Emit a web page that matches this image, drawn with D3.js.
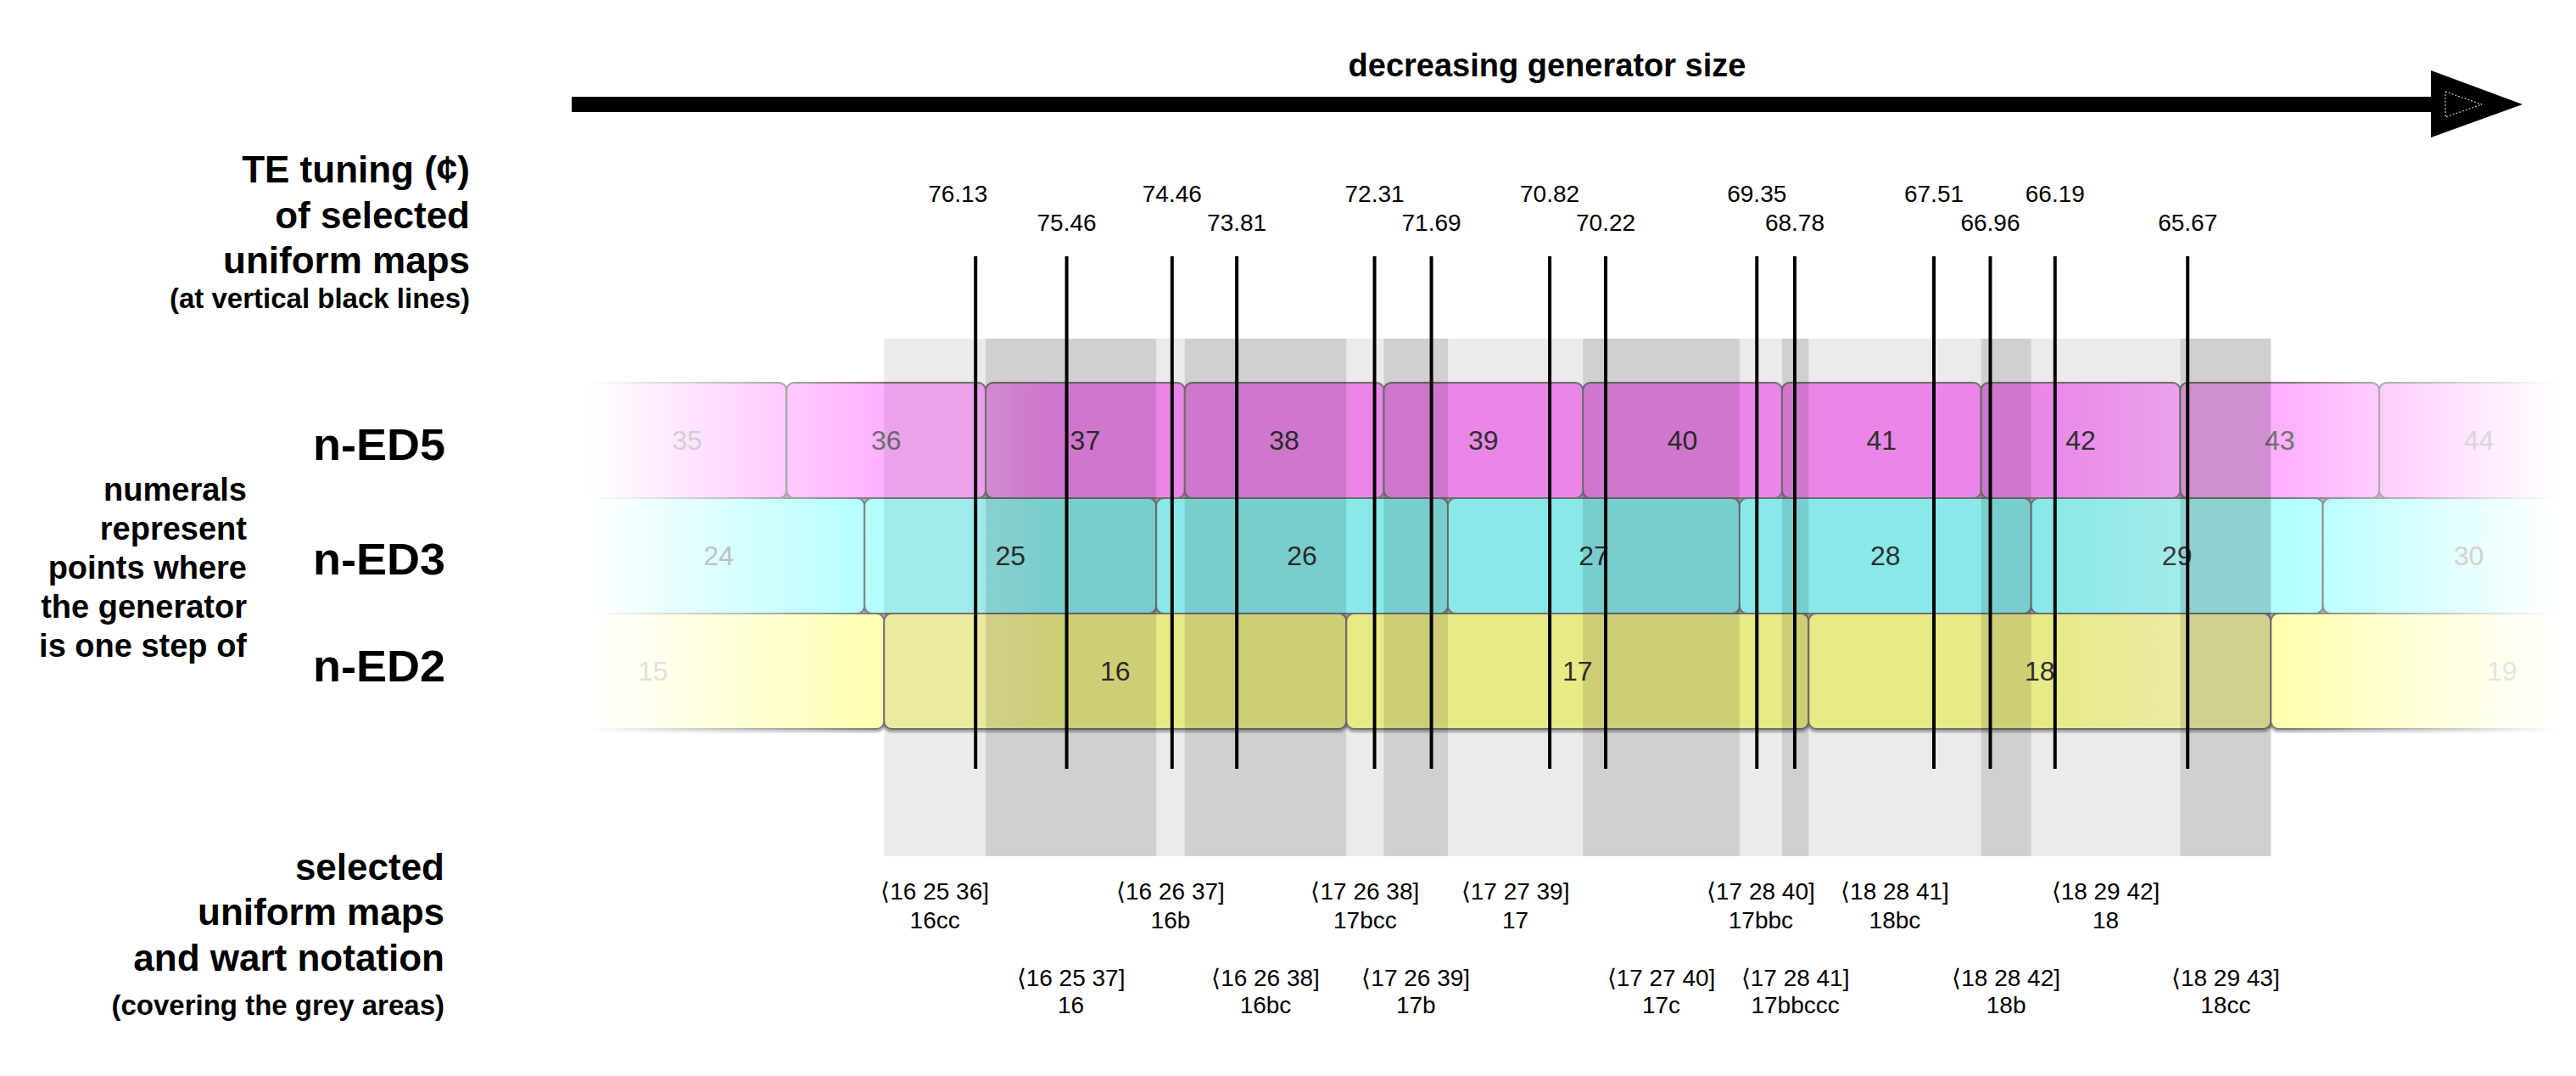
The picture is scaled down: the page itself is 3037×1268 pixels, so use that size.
<!DOCTYPE html>
<html><head><meta charset="utf-8">
<script src="https://cdn.jsdelivr.net/npm/d3@7"></script>
<style>html,body{margin:0;padding:0;background:#fff;} svg{display:block;}</style>
</head><body>
<script>
// ---------- data ----------
const titleText = "decreasing generator size";
const rowNames = ["n-ED5", "n-ED3", "n-ED2"];
const rowPeriods = [2786.314, 1901.955, 1200];           // cents of 5/1, 3/1, 2/1
const ed5Steps = [35, 36, 37, 38, 39, 40, 41, 42, 43, 44];
const ed3Steps = [24, 25, 26, 27, 28, 29, 30];
const ed2Steps = [15, 16, 17, 18, 19];
const mapED2 = [16, 16, 16, 16, 17, 17, 17, 17, 17, 17, 18, 18, 18, 18];
const mapED3 = [25, 25, 26, 26, 26, 26, 27, 27, 28, 28, 28, 28, 29, 29];
const mapED5 = [36, 37, 37, 38, 38, 39, 39, 40, 40, 41, 41, 42, 42, 43];
const warts = ["16cc", "16", "16b", "16bc", "17bcc", "17b", "17", "17c", "17bbc", "17bbccc", "18bc", "18b", "18", "18cc"];
const teTuning = ["76.13", "75.46", "74.46", "73.81", "72.31", "71.69", "70.82", "70.22", "69.35", "68.78", "67.51", "66.96", "66.19", "65.67"];
// where each vertical line sits, in octave-steps (ED2 units)
const teLineAt = [15.698, 15.895, 16.123, 16.263, 16.561, 16.684, 16.940, 17.061, 17.388, 17.470, 17.771, 17.893, 18.033, 18.320];
const topLabel = ["TE tuning (¢)", "of selected", "uniform maps"];
const topLabelSmall = "(at vertical black lines)";
const numeralsLabel = ["numerals", "represent", "points where", "the generator", "is one step of"];
const bottomLabel = ["selected", "uniform maps", "and wart notation"];
const bottomLabelSmall = "(covering the grey areas)";

// ---------- style ----------
const W = 3037, H = 1268;
const FONT = "'Liberation Sans', Arial, Helvetica, sans-serif";
const baseCol = ["#ffb0ff", "#b0ffff", "#ffffb0"];
const boostCol = ["#fe92fb", "#94fdfc", "#fdfd92"];
const stepsByRow = [ed5Steps, ed3Steps, ed2Steps];

const svg = d3.select("body").append("svg").attr("width", W).attr("height", H)
  .attr("viewBox", `0 0 ${W} ${H}`).style("font-family", FONT);

const x = d3.scaleLinear().domain([15.5, 18.5]).range([1042.3, 2677.3]);
const y = d3.scaleBand().domain(rowNames).range([451, 859]);
const textFade = d3.scaleLinear().domain([694, 1190, 2540, 3015])
  .range(["#ffffff", "#333333", "#333333", "#ffffff"]).clamp(true);

const defs = svg.append("defs");
const hGrad = (id, stops) => {
  const g = defs.append("linearGradient").attr("id", id)
    .attr("gradientUnits", "userSpaceOnUse").attr("x1", 0).attr("x2", W).attr("y1", 0).attr("y2", 0);
  g.selectAll("stop").data(stops).join("stop")
    .attr("offset", d => d[0] / W).attr("stop-color", d => d[1])
    .attr("stop-opacity", d => d[2] === undefined ? 1 : d[2]);
};
rowNames.forEach((r, i) => hGrad("fill" + i, [
  [694, "#ffffff"], [1042, baseCol[i]], [1150, baseCol[i]], [1230, boostCol[i]],
  [2400, boostCol[i]], [2570, baseCol[i]], [2690, baseCol[i]], [3015, "#ffffff"]
]));
hGrad("strokeG", [[694, "#ffffff"], [1042, "#7a7a7a"], [2690, "#7a7a7a"], [3015, "#ffffff"]]);
hGrad("shadowG", [[694, "#000", 0], [1042, "#000", 0.5], [2690, "#000", 0.5], [3015, "#000", 0]]);
defs.append("filter").attr("id", "blur").attr("x", -0.1).attr("y", -0.1).attr("width", 1.2).attr("height", 1.2)
  .append("feGaussianBlur").attr("stdDeviation", 1.6);
defs.append("clipPath").attr("id", "rowClip").append("rect")
  .attr("x", 690).attr("y", 430).attr("width", W - 690).attr("height", 450);

// ---------- rows of cells ----------
const cellLo = (n, p) => (n - 0.5) * 1200 / p;
const cellHi = (n, p) => (n + 0.5) * 1200 / p;

const rowsG = svg.append("g").attr("clip-path", "url(#rowClip)");
const shadowG = rowsG.append("g").attr("filter", "url(#blur)");
rowNames.forEach((r, i) => {
  const p = rowPeriods[i];
  shadowG.append("g").selectAll("rect").data(stepsByRow[i]).join("rect")
    .attr("x", n => x(cellLo(n, p)))
    .attr("width", n => x(cellHi(n, p)) - x(cellLo(n, p)))
    .attr("y", y(r) + 2).attr("height", y.bandwidth())
    .attr("rx", 9).attr("ry", 9)
    .attr("fill", "none").attr("stroke", "url(#shadowG)").attr("stroke-width", 2.5);
});
rowNames.forEach((r, i) => {
  const p = rowPeriods[i];
  const g = rowsG.append("g");
  g.selectAll("rect").data(stepsByRow[i]).join("rect")
    .attr("x", n => x(cellLo(n, p)))
    .attr("width", n => x(cellHi(n, p)) - x(cellLo(n, p)))
    .attr("y", y(r)).attr("height", y.bandwidth())
    .attr("rx", 9).attr("ry", 9)
    .attr("fill", `url(#fill${i})`)
    .attr("stroke", "url(#strokeG)").attr("stroke-width", 2);
  g.selectAll("text").data(stepsByRow[i]).join("text")
    .attr("x", n => x((cellLo(n, p) + cellHi(n, p)) / 2))
    .attr("y", y(r) + y.bandwidth() / 2 + 11)
    .attr("text-anchor", "middle").attr("font-size", 32)
    .attr("fill", n => textFade(x((cellLo(n, p) + cellHi(n, p)) / 2)))
    .text(n => n);
});

// ---------- grey areas (one per selected uniform map) ----------
const maps = mapED2.map((a, i) => ({ v: [a, mapED3[i], mapED5[i]], wart: warts[i] }));
maps.forEach(m => {
  m.lo = Math.max(cellLo(m.v[0], rowPeriods[2]), cellLo(m.v[1], rowPeriods[1]), cellLo(m.v[2], rowPeriods[0]));
  m.hi = Math.min(cellHi(m.v[0], rowPeriods[2]), cellHi(m.v[1], rowPeriods[1]), cellHi(m.v[2], rowPeriods[0]));
});
svg.append("g").selectAll("rect").data(maps).join("rect")
  .attr("x", d => x(d.lo)).attr("width", d => x(d.hi) - x(d.lo))
  .attr("y", 399).attr("height", 610)
  .attr("fill", "#000").attr("fill-opacity", (d, i) => i % 2 ? 0.184 : 0.078);

// ---------- vertical TE lines ----------
svg.append("g").selectAll("line").data(teLineAt).join("line")
  .attr("x1", d => x(d)).attr("x2", d => x(d)).attr("y1", 302).attr("y2", 906)
  .attr("stroke", "#000").attr("stroke-width", 4);
svg.append("g").selectAll("text").data(teTuning).join("text")
  .attr("x", (d, i) => x(teLineAt[i]) + (i === 0 ? -21 : 0))
  .attr("y", (d, i) => i % 2 ? 272 : 238)
  .attr("text-anchor", "middle").attr("font-size", 28).attr("fill", "#000")
  .text(d => d);

// ---------- map labels ----------
const ml = svg.append("g").attr("text-anchor", "middle").attr("font-size", 28).attr("fill", "#000");
ml.selectAll("text.vec").data(maps).join("text").attr("class", "vec")
  .attr("x", d => x((d.lo + d.hi) / 2)).attr("y", (d, i) => i % 2 ? 1162 : 1060)
  .text(d => "\u27E8" + d.v.join(" ") + "]");
ml.selectAll("text.wart").data(maps).join("text").attr("class", "wart")
  .attr("x", d => x((d.lo + d.hi) / 2)).attr("y", (d, i) => i % 2 ? 1194 : 1094)
  .text(d => d.wart);

// ---------- arrow & title ----------
svg.append("line").attr("x1", 674).attr("x2", 2870).attr("y1", 123).attr("y2", 123)
  .attr("stroke", "#000").attr("stroke-width", 18);
svg.append("path").attr("d", d3.line()([[2866, 83], [2974, 123], [2866, 162]]) + "Z").attr("fill", "#000");
svg.append("path").attr("d", d3.line()([[2883, 108], [2926, 123], [2883, 138]]) + "Z")
  .attr("fill", "none").attr("stroke", "#fff").attr("stroke-width", 1).attr("stroke-dasharray", "2,2");
svg.append("text").attr("x", 1824).attr("y", 90).attr("text-anchor", "middle")
  .attr("font-size", 38).attr("font-weight", "bold").text(titleText);

// ---------- left-hand labels ----------
const lab = svg.append("g").attr("text-anchor", "end").attr("font-weight", "bold").attr("fill", "#000");
topLabel.forEach((t, i) => lab.append("text").attr("x", 554).attr("y", 215 + i * 53.5).attr("font-size", 44).text(t));
lab.append("text").attr("x", 554).attr("y", 363).attr("font-size", 33).text(topLabelSmall);
rowNames.forEach((t, i) => lab.append("text").attr("x", 525).attr("y", [542, 677, 803][i])
  .attr("font-size", 51).attr("textLength", 156).attr("lengthAdjust", "spacingAndGlyphs").text(t));
numeralsLabel.forEach((t, i) => lab.append("text").attr("x", 291).attr("y", 590 + i * 46).attr("font-size", 38).text(t));
bottomLabel.forEach((t, i) => lab.append("text").attr("x", 524).attr("y", 1037 + i * 53.3).attr("font-size", 44).text(t));
lab.append("text").attr("x", 524).attr("y", 1196).attr("font-size", 33).text(bottomLabelSmall);
</script>
</body></html>
